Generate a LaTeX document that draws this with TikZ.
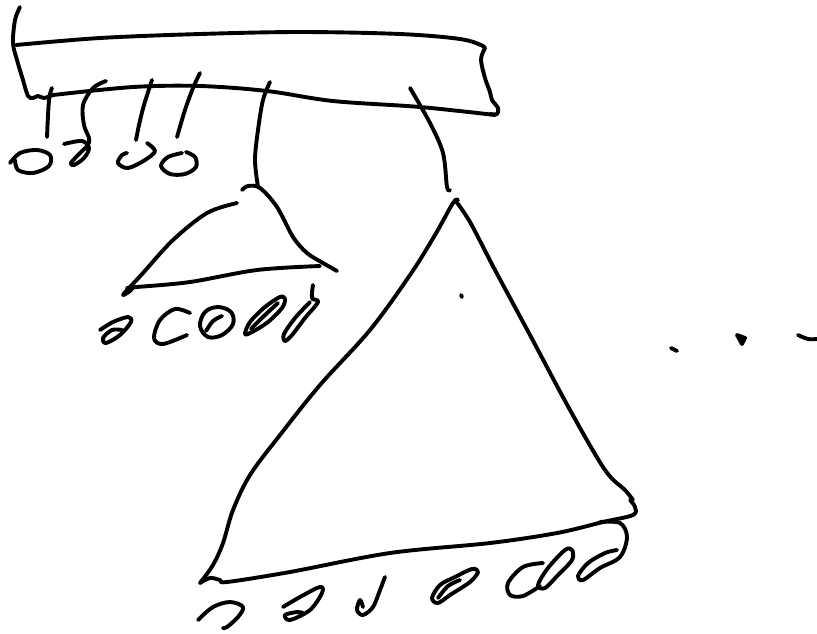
\documentclass[tikz,border=0pt]{standalone}
\begin{document}
\begin{tikzpicture}[x=1pt,y=-1pt,
  ink/.style={line width=3.9pt,line cap=round,line join=round,black}]
\useasboundingbox (0,0) rectangle (817,633);
% top bar
\draw[ink] plot[smooth,tension=0.55] coordinates {(20,7) (15,20) (13,43) (17,60) (23,80) (28,96) (33,98) (38,96) (44,98) (53,95)};
\draw[ink] plot[smooth,tension=0.55] coordinates {(16,45) (100,38) (200,34) (300,32) (400,34) (460,39) (483,46) (484,50)};
\draw[ink] plot[smooth,tension=0.55] coordinates {(484,50) (481,60) (485,78) (490,92) (492,100) (498,108) (497,114) (490,114)};
\draw[ink] plot[smooth,tension=0.55] coordinates {(495,115) (420,107) (333,101) (267,91) (200,86) (133,87) (53,95)};
% stems and leaves under top bar
\draw[ink] plot[smooth,tension=0.55] coordinates {(52,88) (49,100) (47,137)};
\draw[ink] plot[smooth,tension=0.55] coordinates {(106,81) (93,88) (83,105) (84,125) (89,138) (88,145) (80,153) (71,163) (74,165) (84,158) (89,148) (82,141) (64,144)};
\draw[ink] plot[smooth,tension=0.55] coordinates {(10,163) (20,153) (37,150) (50,155) (49,166) (33,173) (18,170) (15,160)};
\draw[ink] plot[smooth,tension=0.55] coordinates {(152,80) (144,105) (139,125) (136,140)};
\draw[ink] plot[smooth,tension=0.55] coordinates {(147,143) (155,151) (145,160) (128,168) (118,163) (122,155) (127,153)};
\draw[ink] plot[smooth,tension=0.55] coordinates {(200,73) (193,88) (185,110) (177,137)};
\draw[ink] plot[smooth,tension=0.55] coordinates {(182,153) (168,157) (161,166) (170,174) (185,174) (196,167) (195,157) (186,152)};
% small triangle
\draw[ink] plot[smooth,tension=0.55] coordinates {(270,82) (263,100) (258,130) (255,160) (258,187)};
\draw[ink] plot[smooth,tension=0.55] coordinates {(242,190) (248,186) (260,188) (277,207) (293,237) (307,253) (323,263) (337,271)};
\draw[ink] plot[smooth,tension=0.55] coordinates {(320,266) (257,270) (190,282) (137,287) (127,288)};
\draw[ink] plot[smooth,tension=0.55] coordinates {(237,203) (207,213) (173,240) (143,273) (130,287) (123,295) (130,291) (134,286)};
% leaves under small triangle
\draw[ink] plot[smooth,tension=0.55] coordinates {(100,330) (113,322) (128,317) (131,322) (120,335) (106,343) (103,338) (112,330) (122,330)};
\draw[ink] plot[smooth,tension=0.55] coordinates {(190,313) (175,309) (160,320) (154,338) (163,344) (187,335)};
\draw[ink] plot[smooth cycle,tension=0.6] coordinates {(200,326) (205,312) (218,307) (231,312) (233,324) (222,335) (208,337)};
\draw[ink] plot[smooth,tension=0.55] coordinates {(206,331) (213,321) (222,316)};
\draw[ink] plot[smooth cycle,tension=0.55] coordinates {(245,334) (250,322) (265,307) (280,297) (285,299) (282,308) (268,322) (252,332)};
\draw[ink] plot[smooth,tension=0.55] coordinates {(251,329) (265,315) (278,303)};
\draw[ink] plot[smooth,tension=0.55] coordinates {(313,285) (312,298) (318,302) (305,318) (292,335) (285,341) (284,334) (295,318) (310,302)};
% big triangle
\draw[ink] plot[smooth,tension=0.55] coordinates {(410,88) (430,123) (443,153) (447,187) (450,190)};
\draw[ink] plot[smooth,tension=0.55] coordinates {(458,200) (453,203) (435,235) (410,275) (370,330) (320,385) (280,435) (250,475) (233,510) (223,543) (213,565) (200,583)};
\draw[ink] plot[smooth,tension=0.55] coordinates {(455,200) (470,222) (495,270) (530,335) (570,410) (605,470) (625,490) (633,500)};
\draw[ink] plot[smooth,tension=0.55] coordinates {(200,583) (210,578) (220,580) (227,582) (290,572) (390,553) (490,543) (557,533) (603,522) (633,515) (635,507) (630,500)};
\draw[ink] plot[smooth,tension=0.55] coordinates {(600,522) (620,523) (627,537) (620,557) (600,568) (583,580) (578,576) (588,563) (605,553) (617,550)};
\draw[ink] (461,295) -- (462,297);
% leaves under big triangle
\draw[ink] plot[smooth,tension=0.55] coordinates {(198,620) (213,607) (230,602) (243,607) (238,617) (227,627) (223,628)};
\draw[ink] plot[smooth,tension=0.55] coordinates {(283,607) (300,597) (320,587) (322,593) (310,610) (290,620) (285,615) (297,612) (303,613)};
\draw[ink] plot[smooth,tension=0.55] coordinates {(385,577) (380,590) (373,607) (363,615) (357,610) (360,600) (363,607)};
\draw[ink] plot[smooth cycle,tension=0.55] coordinates {(432,598) (440,585) (455,577) (472,569) (478,572) (470,582) (450,595) (438,603)};
\draw[ink] plot[smooth,tension=0.55] coordinates {(438,598) (448,586) (460,580)};
\draw[ink] plot[smooth,tension=0.55] coordinates {(543,563) (523,567) (508,583) (510,595) (523,596) (540,586)};
\draw[ink] plot[smooth cycle,tension=0.55] coordinates {(538,585) (548,568) (565,550) (572,550) (572,560) (558,575) (545,588)};
% ellipsis dots
\draw[ink] (671,348) -- (677,351);
\draw[ink,fill] (737,335) -- (745,338) -- (742,344) -- cycle;
\draw[ink] plot[smooth,tension=0.55] coordinates {(798,335) (808,339) (817,339)};
\end{tikzpicture}
\end{document}
